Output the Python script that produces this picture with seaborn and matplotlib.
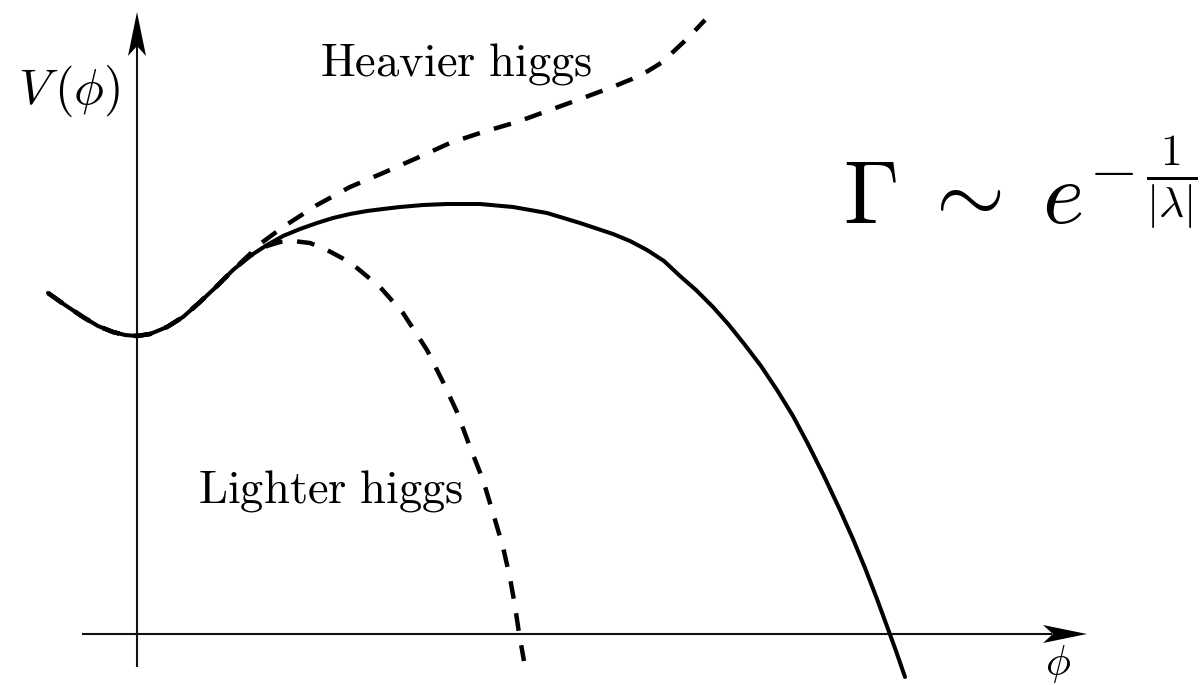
import numpy as np
import pandas as pd
import matplotlib
matplotlib.use("Agg")
import matplotlib.pyplot as plt
from matplotlib.patches import Polygon
import seaborn as sns

# Potential V(phi), read in axis units (origin at the axes crossing)
phi_sm = [-89, -72, -54, -39, -24, -12, 0, 13, 30, 46, 63, 80, 96, 113, 130, 146,
          163, 180, 196, 213, 230, 246, 263, 286, 310, 343, 376, 410, 443, 476,
          493, 510, 527, 543, 559, 576, 592, 608, 624, 640, 656, 671, 687, 703,
          716, 728, 740, 751, 759, 768]
v_sm = [341, 329, 317, 308, 302, 299, 298, 300, 307, 317, 332, 348, 364, 378, 389,
        398, 405, 411, 416, 420, 423, 425, 427, 429, 430, 430, 427, 421, 411, 400,
        393, 384, 373, 358, 344, 327, 309, 289, 268, 244, 218, 190, 158, 124,
        95, 66, 35, 5, -17, -43]

phi_heavy = [-89, -72, -54, -39, -24, -12, 0, 13, 30, 46, 63, 80, 96, 113, 123, 146,
             180, 213, 246, 280, 313, 346, 380, 413, 446, 478, 495, 511, 524, 536,
             552, 568]
v_heavy = [341, 329, 317, 308, 302, 299, 298, 300, 307, 317, 332, 348, 364, 380, 390,
           407, 429, 447, 461, 476, 491, 502, 512, 524, 536, 548, 555, 563, 571, 582,
           597, 614]

phi_light = [-89, -72, -54, -39, -24, -12, 0, 13, 30, 46, 63, 80, 96, 113, 130, 143,
             156, 173, 190, 205, 220, 243, 266, 290, 306, 320, 333, 346, 356, 366,
             373, 378, 382, 387]
v_light = [341, 329, 317, 308, 302, 299, 298, 300, 307, 317, 332, 348, 364, 378, 388,
           392, 393, 391, 384, 376, 366, 347, 321, 284, 252, 222, 187, 154, 121, 87,
           56, 28, 1, -27]

label_heavy = "Heavier higgs"
label_light = "Lighter higgs"
rate_formula = r"$\Gamma\;\sim\;e^{-\,\frac{1}{|\lambda|}}$"
y_label = r"$V\,(\phi)$"
x_label = r"$\phi$"

sns.set_theme(style="white")
plt.rcParams["mathtext.fontset"] = "cm"
plt.rcParams["font.family"] = ["DejaVu Sans"]

fig = plt.figure(figsize=(12, 6.85), dpi=100)
ax = fig.add_axes([0, 0, 1, 1])
ax.set_xlim(-137, 1063)
ax.set_ylim(-51, 634)
ax.axis("off")

ink = "black"
axis_col = "#111111"

# axes with stealth-style arrow heads
ax.plot([-55, 915], [0, 0], color=axis_col, lw=1.5, solid_capstyle="butt", zorder=1)
ax.plot([0, 0], [-33, 590], color=axis_col, lw=1.5, solid_capstyle="butt", zorder=1)
ax.add_patch(Polygon([[950, 0], [906, 9], [916, 0], [906, -9]], closed=True,
                     color=ink, lw=0, zorder=4))
ax.add_patch(Polygon([[0, 622], [-9, 578], [0, 588], [9, 578]], closed=True,
                     color=ink, lw=0, zorder=4))

dash = (0, (4.0, 3.3))
df_heavy = pd.DataFrame({"phi": phi_heavy, "V": v_heavy})
df_light = pd.DataFrame({"phi": phi_light, "V": v_light})
df_sm = pd.DataFrame({"phi": phi_sm, "V": v_sm})

sns.lineplot(data=df_sm, x="phi", y="V", sort=False, estimator=None, ax=ax,
             color=ink, lw=2.9, zorder=2, solid_joinstyle="round")
sns.lineplot(data=df_heavy, x="phi", y="V", sort=False, estimator=None, ax=ax,
             color=ink, lw=3.2, linestyle=dash, zorder=3)
sns.lineplot(data=df_light, x="phi", y="V", sort=False, estimator=None, ax=ax,
             color=ink, lw=3.2, linestyle=dash, zorder=3)

ax.text(183, 559, r"$\mathrm{Heavier\ higgs}$", fontsize=33.5, ha="left",
        va="baseline", color=ink)
ax.text(61, 131, r"$\mathrm{Lighter\ higgs}$", fontsize=33.5, ha="left",
        va="baseline", color=ink)
ax.text(706, 411, rate_formula, fontsize=64, ha="left", va="baseline", color=ink)
ax.text(-119, 530, y_label, fontsize=36, ha="left", va="baseline", color=ink)
ax.text(921, -30, x_label, fontsize=30, ha="center", va="center", color=ink)

fig.savefig("out.png", dpi=100, facecolor="white")
